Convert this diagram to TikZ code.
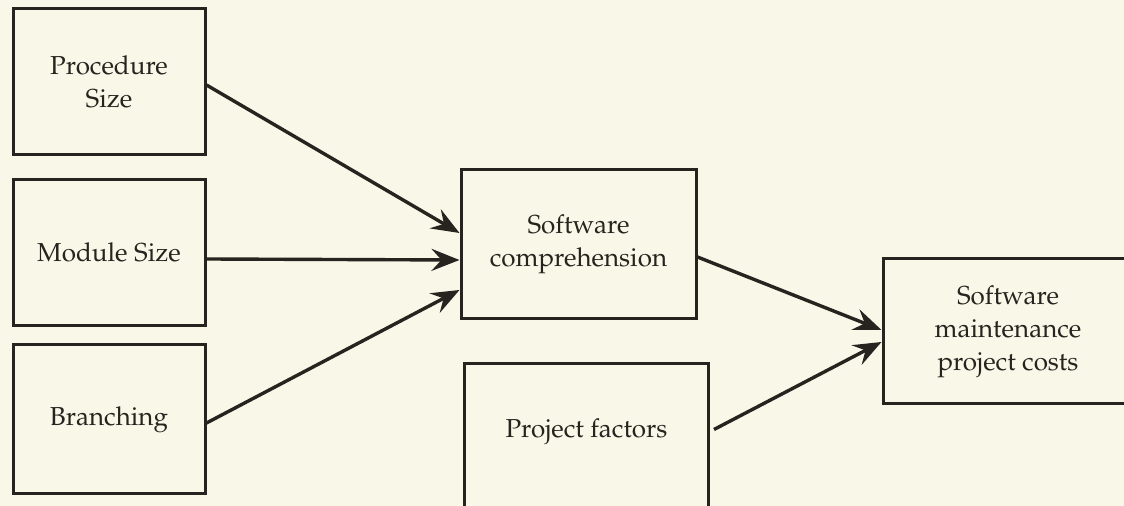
\documentclass[tikz,border=0pt]{standalone}
\usepackage[T1]{fontenc}
\usepackage{mathpazo}
\usepackage{tikz}
\usetikzlibrary{arrows.meta, positioning}

\definecolor{paper}{RGB}{249,247,232}
\definecolor{ink}{RGB}{38,36,30}

\begin{document}
\begin{tikzpicture}[
  x=0.5pt, y=-0.5pt, on grid, >={Stealth[length=14pt, width=11pt, inset=5pt]},
  every node/.style={font=\fontsize{13}{16.5}\selectfont, text=ink},
  box/.style={draw=ink, line width=1.5pt, align=center,
    minimum width=96pt, minimum height=73pt, inner sep=0pt},
  link/.style={->, draw=ink, line width=1.7pt},
  ]
  \useasboundingbox[fill=paper] (0,0) rectangle (1124,506);

  % measures on the left
  \node[box] (procsize) at (109,81.5) {Procedure\\Size};
  \node[box] (modsize) [below=85.5pt of procsize] {Module Size};
  \node[box, minimum height=74.5pt] (branch) [below=83.5pt of modsize] {Branching};

  % middle and right
  \node[box, minimum width=117.5pt, minimum height=74.5pt] (comp) at (578.5,244.5) {Software\\comprehension};
  \node[box, minimum width=122pt] (proj) [below=96pt of comp, xshift=4pt] {\raisebox{8pt}{Project factors}};
  \node[box, minimum width=125pt, minimum height=72.5pt] (cost) at (1008,331.5) {Software\\maintenance\\project costs};

  \draw[link] ([yshift=-1.75pt]procsize.east) -- ([yshift=5.75pt]comp.west);
  \draw[link] ([yshift=-3.25pt]modsize.east) -- ([yshift=-7.75pt]comp.west);
  \draw[link] ([yshift=-1.75pt]branch.east) -- ([yshift=-22.75pt]comp.west);
  \draw[link] ([yshift=-6.25pt]comp.east) -- ([yshift=0.75pt]cost.west);
  \draw[link] ([xshift=2pt, yshift=3.5pt]proj.east) -- ([yshift=-5.25pt]cost.west);
\end{tikzpicture}
\end{document}
